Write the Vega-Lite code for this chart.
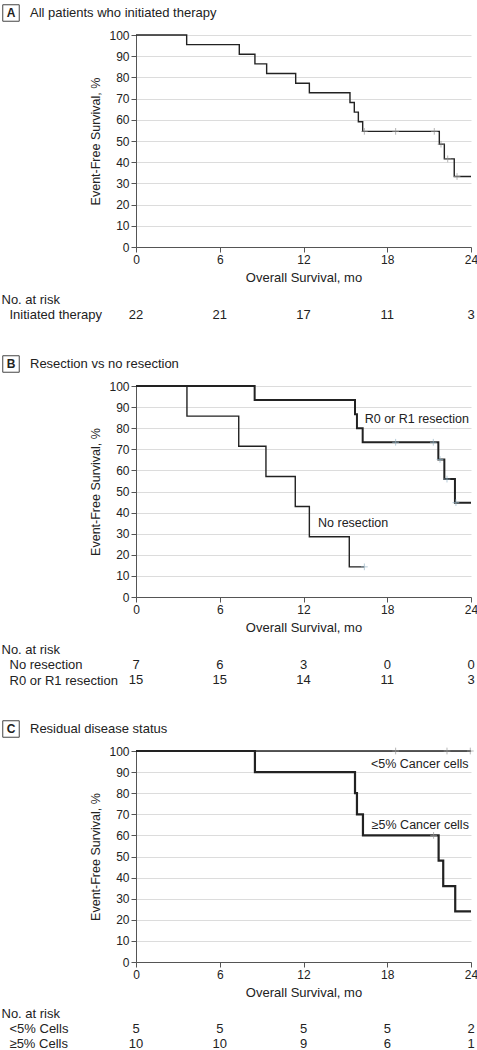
{
  "$schema": "https://vega.github.io/schema/vega-lite/v6.json",
  "background": "white",
  "padding": {"left": 0, "top": 2, "right": 0, "bottom": 0},
  "config": {
    "font": "Liberation Sans",
    "view": {"stroke": null},
    "axis": {"labelFontSize": 12, "labelColor": "#222", "titleFontSize": 12.5, "titleFontWeight": "normal", "titleColor": "#222", "domainColor": "#555", "tickColor": "#555", "tickSize": 5, "grid": false},
    "text": {"font": "Liberation Sans", "color": "#222"}
  },
  "datasets": {
    "curves": [
      {"panel": "A", "group": "All", "t": 0, "s": 100},
      {"panel": "A", "group": "All", "t": 3.63, "s": 95.45},
      {"panel": "A", "group": "All", "t": 7.4, "s": 90.91},
      {"panel": "A", "group": "All", "t": 8.52, "s": 86.36},
      {"panel": "A", "group": "All", "t": 9.36, "s": 81.82},
      {"panel": "A", "group": "All", "t": 11.44, "s": 77.27},
      {"panel": "A", "group": "All", "t": 12.42, "s": 72.73},
      {"panel": "A", "group": "All", "t": 15.33, "s": 68.18},
      {"panel": "A", "group": "All", "t": 15.64, "s": 63.64},
      {"panel": "A", "group": "All", "t": 15.93, "s": 59.09},
      {"panel": "A", "group": "All", "t": 16.24, "s": 54.55},
      {"panel": "A", "group": "All", "t": 21.73, "s": 48.48},
      {"panel": "A", "group": "All", "t": 22.09, "s": 41.56},
      {"panel": "A", "group": "All", "t": 22.8, "s": 33.25},
      {"panel": "A", "group": "All", "t": 24, "s": 33.25},
      {"panel": "B", "group": "No resection", "t": 0, "s": 100},
      {"panel": "B", "group": "No resection", "t": 3.65, "s": 85.71},
      {"panel": "B", "group": "No resection", "t": 7.36, "s": 71.43},
      {"panel": "B", "group": "No resection", "t": 9.31, "s": 57.14},
      {"panel": "B", "group": "No resection", "t": 11.41, "s": 42.86},
      {"panel": "B", "group": "No resection", "t": 12.42, "s": 28.57},
      {"panel": "B", "group": "No resection", "t": 15.28, "s": 14.29},
      {"panel": "B", "group": "No resection", "t": 16.36, "s": 14.29},
      {"panel": "B", "group": "R0 or R1 resection", "t": 0, "s": 100},
      {"panel": "B", "group": "R0 or R1 resection", "t": 8.5, "s": 93.33},
      {"panel": "B", "group": "R0 or R1 resection", "t": 15.69, "s": 86.67},
      {"panel": "B", "group": "R0 or R1 resection", "t": 15.83, "s": 80},
      {"panel": "B", "group": "R0 or R1 resection", "t": 16.24, "s": 73.33},
      {"panel": "B", "group": "R0 or R1 resection", "t": 21.66, "s": 65.19},
      {"panel": "B", "group": "R0 or R1 resection", "t": 22.09, "s": 55.87},
      {"panel": "B", "group": "R0 or R1 resection", "t": 22.85, "s": 44.7},
      {"panel": "B", "group": "R0 or R1 resection", "t": 24, "s": 44.7},
      {"panel": "C", "group": "<5% Cancer cells", "t": 0, "s": 100},
      {"panel": "C", "group": "<5% Cancer cells", "t": 24, "s": 100},
      {"panel": "C", "group": "≥5% Cancer cells", "t": 0, "s": 100},
      {"panel": "C", "group": "≥5% Cancer cells", "t": 8.52, "s": 90},
      {"panel": "C", "group": "≥5% Cancer cells", "t": 15.69, "s": 80},
      {"panel": "C", "group": "≥5% Cancer cells", "t": 15.83, "s": 70},
      {"panel": "C", "group": "≥5% Cancer cells", "t": 16.26, "s": 60},
      {"panel": "C", "group": "≥5% Cancer cells", "t": 21.68, "s": 48},
      {"panel": "C", "group": "≥5% Cancer cells", "t": 22.01, "s": 36},
      {"panel": "C", "group": "≥5% Cancer cells", "t": 22.87, "s": 24},
      {"panel": "C", "group": "≥5% Cancer cells", "t": 24, "s": 24}
    ],
    "censor": [
      {"panel": "A", "group": "All", "t": 16.36, "s": 54.55},
      {"panel": "A", "group": "All", "t": 18.6, "s": 54.55},
      {"panel": "A", "group": "All", "t": 21.37, "s": 54.55},
      {"panel": "A", "group": "All", "t": 21.85, "s": 48.48},
      {"panel": "A", "group": "All", "t": 22.33, "s": 41.56},
      {"panel": "A", "group": "All", "t": 23.0, "s": 33.25},
      {"panel": "B", "group": "No resection", "t": 16.36, "s": 14.29},
      {"panel": "B", "group": "R0 or R1 resection", "t": 18.6, "s": 73.33},
      {"panel": "B", "group": "R0 or R1 resection", "t": 21.3, "s": 73.33},
      {"panel": "B", "group": "R0 or R1 resection", "t": 21.78, "s": 65.19},
      {"panel": "B", "group": "R0 or R1 resection", "t": 22.28, "s": 55.87},
      {"panel": "B", "group": "R0 or R1 resection", "t": 22.92, "s": 44.7},
      {"panel": "C", "group": "<5% Cancer cells", "t": 18.6, "s": 100},
      {"panel": "C", "group": "<5% Cancer cells", "t": 22.28, "s": 100},
      {"panel": "C", "group": "<5% Cancer cells", "t": 23.95, "s": 100},
      {"panel": "C", "group": "≥5% Cancer cells", "t": 21.32, "s": 60}
    ],
    "labels": [
      {"panel": "B", "label": "R0 or R1 resection", "t": 23.85, "s": 84.2, "side": "right"},
      {"panel": "B", "label": "No resection", "t": 13.04, "s": 35.2, "side": "left"},
      {"panel": "C", "label": "<5% Cancer cells", "t": 23.83, "s": 93.7, "side": "right"},
      {"panel": "C", "label": "≥5% Cancer cells", "t": 23.85, "s": 64.9, "side": "right"}
    ],
    "risk": [
      {"panel": "A", "group": "Initiated therapy", "t": 0, "n": 22},
      {"panel": "A", "group": "Initiated therapy", "t": 6, "n": 21},
      {"panel": "A", "group": "Initiated therapy", "t": 12, "n": 17},
      {"panel": "A", "group": "Initiated therapy", "t": 18, "n": 11},
      {"panel": "A", "group": "Initiated therapy", "t": 24, "n": 3},
      {"panel": "B", "group": "No resection", "t": 0, "n": 7},
      {"panel": "B", "group": "No resection", "t": 6, "n": 6},
      {"panel": "B", "group": "No resection", "t": 12, "n": 3},
      {"panel": "B", "group": "No resection", "t": 18, "n": 0},
      {"panel": "B", "group": "No resection", "t": 24, "n": 0},
      {"panel": "B", "group": "R0 or R1 resection", "t": 0, "n": 15},
      {"panel": "B", "group": "R0 or R1 resection", "t": 6, "n": 15},
      {"panel": "B", "group": "R0 or R1 resection", "t": 12, "n": 14},
      {"panel": "B", "group": "R0 or R1 resection", "t": 18, "n": 11},
      {"panel": "B", "group": "R0 or R1 resection", "t": 24, "n": 3},
      {"panel": "C", "group": "<5% Cells", "t": 0, "n": 5},
      {"panel": "C", "group": "<5% Cells", "t": 6, "n": 5},
      {"panel": "C", "group": "<5% Cells", "t": 12, "n": 5},
      {"panel": "C", "group": "<5% Cells", "t": 18, "n": 5},
      {"panel": "C", "group": "<5% Cells", "t": 24, "n": 2},
      {"panel": "C", "group": "≥5% Cells", "t": 0, "n": 10},
      {"panel": "C", "group": "≥5% Cells", "t": 6, "n": 10},
      {"panel": "C", "group": "≥5% Cells", "t": 12, "n": 9},
      {"panel": "C", "group": "≥5% Cells", "t": 18, "n": 6},
      {"panel": "C", "group": "≥5% Cells", "t": 24, "n": 1}
    ],
    "headers": [
      {"panel": "A", "letter": "A", "title": "All patients who initiated therapy"},
      {"panel": "B", "letter": "B", "title": "Resection vs no resection"},
      {"panel": "C", "letter": "C", "title": "Residual disease status"}
    ]
  },
  "spacing": 30,
  "align": "none",
  "vconcat": [
    {
      "spacing": 5,
      "align": "none",
      "vconcat": [
        {
          "data": {"name": "headers"},
          "transform": [{"filter": "datum.panel === 'A'"}],
          "width": 20, "height": 16,
          "layer": [
            {"mark": {"type": "point", "shape": "square", "size": 272, "filled": false, "stroke": "#444", "strokeWidth": 1, "opacity": 1, "xOffset": -135}},
            {"mark": {"type": "text", "fontWeight": "bold", "fontSize": 12, "dx": -135}, "encoding": {"text": {"field": "letter"}}},
            {"mark": {"type": "text", "align": "left", "dx": -116, "fontSize": 13}, "encoding": {"text": {"field": "title"}}}
          ]
        },
        {
          "spacing": 7.5,
          "align": "none",
          "vconcat": [
            {
              "width": 335, "height": 212,
              "layer": [
                {
                  "data": {"name": "curves"},
                  "transform": [{"filter": "datum.panel === 'A'"}],
                  "mark": {"type": "line", "interpolate": "step-after", "strokeWidth": 1.4},
                  "encoding": {
                    "x": {"field": "t", "type": "quantitative", "scale": {"domain": [0, 24], "nice": false},
                          "axis": {"values": [0, 6, 12, 18, 24], "title": "Overall Survival, mo", "titleFontSize": 13, "labelPadding": 2, "titlePadding": 6, "labelFlush": false}},
                    "y": {"field": "s", "type": "quantitative", "scale": {"domain": [0, 100], "nice": false},
                          "axis": {"values": [0, 10, 20, 30, 40, 50, 60, 70, 80, 90, 100], "tickCount": 11, "labelOverlap": false, "grid": true, "gridColor": "#dcdcdc", "title": "Event-Free Survival, %", "minExtent": 135, "maxExtent": 135, "titleX": -34, "labelPadding": 2}},
                    "color": {"field": "group", "type": "nominal", "scale": {"domain": ["All"], "range": ["#222222"]}, "legend": null}
                  }
                },
                {
                  "data": {"name": "censor"},
                  "transform": [{"filter": "datum.panel === 'A'"}],
                  "mark": {"type": "point", "shape": "M-1,0L1,0M0,-1L0,1", "size": 45, "filled": false, "color": "#9a9a9a", "strokeWidth": 1},
                  "encoding": {"x": {"field": "t", "type": "quantitative"}, "y": {"field": "s", "type": "quantitative"}}
                }
              ]
            },
            {
              "data": {"name": "risk"},
              "transform": [{"filter": "datum.panel === 'A'"}],
              "width": 335, "height": {"step": 15.5},
              "mark": {"type": "text", "fontSize": 13},
              "encoding": {
                "x": {"field": "t", "type": "quantitative", "scale": {"domain": [0, 24], "nice": false}, "axis": null},
                "y": {"field": "group", "type": "nominal", "scale": {"domain": ["No. at risk", "Initiated therapy"]},
                      "axis": {"title": null, "ticks": false, "tickSize": 0, "domain": false, "labelAlign": "left", "labelPadding": {"condition": {"test": "datum.value === 'No. at risk'", "value": 135}, "value": 127}, "labelFontSize": 13, "minExtent": 135, "maxExtent": 135}},
                "text": {"field": "n", "type": "quantitative"}
              }
            }
          ]
        }
      ]
    },
    {
      "spacing": 5,
      "align": "none",
      "vconcat": [
        {
          "data": {"name": "headers"},
          "transform": [{"filter": "datum.panel === 'B'"}],
          "width": 20, "height": 16,
          "layer": [
            {"mark": {"type": "point", "shape": "square", "size": 272, "filled": false, "stroke": "#444", "strokeWidth": 1, "opacity": 1, "xOffset": -135}},
            {"mark": {"type": "text", "fontWeight": "bold", "fontSize": 12, "dx": -135}, "encoding": {"text": {"field": "letter"}}},
            {"mark": {"type": "text", "align": "left", "dx": -116, "fontSize": 13}, "encoding": {"text": {"field": "title"}}}
          ]
        },
        {
          "spacing": 7.5,
          "align": "none",
          "vconcat": [
            {
              "width": 335, "height": 211,
              "layer": [
                {
                  "data": {"name": "curves"},
                  "transform": [{"filter": "datum.panel === 'B' && datum.group === 'No resection'"}],
                  "mark": {"type": "line", "interpolate": "step-after", "strokeWidth": 1.4},
                  "encoding": {
                    "x": {"field": "t", "type": "quantitative", "scale": {"domain": [0, 24], "nice": false},
                          "axis": {"values": [0, 6, 12, 18, 24], "title": "Overall Survival, mo", "titleFontSize": 13, "labelPadding": 2, "titlePadding": 6, "labelFlush": false}},
                    "y": {"field": "s", "type": "quantitative", "scale": {"domain": [0, 100], "nice": false},
                          "axis": {"values": [0, 10, 20, 30, 40, 50, 60, 70, 80, 90, 100], "tickCount": 11, "labelOverlap": false, "grid": true, "gridColor": "#dcdcdc", "title": "Event-Free Survival, %", "minExtent": 135, "maxExtent": 135, "titleX": -34, "labelPadding": 2}},
                    "color": {"field": "group", "type": "nominal", "scale": {"domain": ["No resection", "R0 or R1 resection"], "range": ["#222222", "#1e9bd7"]}, "legend": null}
                  }
                },
                {
                  "data": {"name": "curves"},
                  "transform": [{"filter": "datum.panel === 'B' && datum.group === 'R0 or R1 resection'"}],
                  "mark": {"type": "line", "interpolate": "step-after", "strokeWidth": 2},
                  "encoding": {
                    "x": {"field": "t", "type": "quantitative"},
                    "y": {"field": "s", "type": "quantitative"},
                    "color": {"field": "group", "type": "nominal", "legend": null}
                  }
                },
                {
                  "data": {"name": "censor"},
                  "transform": [{"filter": "datum.panel === 'B'"}],
                  "mark": {"type": "point", "shape": "M-1,0L1,0M0,-1L0,1", "size": 45, "filled": false, "color": "#9ab8c8", "strokeWidth": 1},
                  "encoding": {"x": {"field": "t", "type": "quantitative"}, "y": {"field": "s", "type": "quantitative"}}
                },
                {
                  "data": {"name": "labels"},
                  "transform": [{"filter": "datum.panel === 'B' && datum.side === 'right'"}],
                  "mark": {"type": "text", "align": "right", "fontSize": 12.5},
                  "encoding": {"x": {"field": "t", "type": "quantitative"}, "y": {"field": "s", "type": "quantitative"}, "text": {"field": "label"}}
                },
                {
                  "data": {"name": "labels"},
                  "transform": [{"filter": "datum.panel === 'B' && datum.side === 'left'"}],
                  "mark": {"type": "text", "align": "left", "fontSize": 12.5},
                  "encoding": {"x": {"field": "t", "type": "quantitative"}, "y": {"field": "s", "type": "quantitative"}, "text": {"field": "label"}}
                }
              ]
            },
            {
              "data": {"name": "risk"},
              "transform": [{"filter": "datum.panel === 'B'"}],
              "width": 335, "height": {"step": 15.5},
              "mark": {"type": "text", "fontSize": 13},
              "encoding": {
                "x": {"field": "t", "type": "quantitative", "scale": {"domain": [0, 24], "nice": false}, "axis": null},
                "y": {"field": "group", "type": "nominal", "scale": {"domain": ["No. at risk", "No resection", "R0 or R1 resection"]},
                      "axis": {"title": null, "ticks": false, "tickSize": 0, "domain": false, "labelAlign": "left", "labelPadding": {"condition": {"test": "datum.value === 'No. at risk'", "value": 135}, "value": 127}, "labelFontSize": 13, "minExtent": 135, "maxExtent": 135}},
                "text": {"field": "n", "type": "quantitative"}
              }
            }
          ]
        }
      ]
    },
    {
      "spacing": 5,
      "align": "none",
      "vconcat": [
        {
          "data": {"name": "headers"},
          "transform": [{"filter": "datum.panel === 'C'"}],
          "width": 20, "height": 16,
          "layer": [
            {"mark": {"type": "point", "shape": "square", "size": 272, "filled": false, "stroke": "#444", "strokeWidth": 1, "opacity": 1, "xOffset": -135}},
            {"mark": {"type": "text", "fontWeight": "bold", "fontSize": 12, "dx": -135}, "encoding": {"text": {"field": "letter"}}},
            {"mark": {"type": "text", "align": "left", "dx": -116, "fontSize": 13}, "encoding": {"text": {"field": "title"}}}
          ]
        },
        {
          "spacing": 7,
          "align": "none",
          "vconcat": [
            {
              "width": 335, "height": 211,
              "layer": [
                {
                  "data": {"name": "curves"},
                  "transform": [{"filter": "datum.panel === 'C' && datum.group === '<5% Cancer cells'"}],
                  "mark": {"type": "line", "interpolate": "step-after", "strokeWidth": 1.4},
                  "encoding": {
                    "x": {"field": "t", "type": "quantitative", "scale": {"domain": [0, 24], "nice": false},
                          "axis": {"values": [0, 6, 12, 18, 24], "title": "Overall Survival, mo", "titleFontSize": 13, "labelPadding": 2, "titlePadding": 6, "labelFlush": false}},
                    "y": {"field": "s", "type": "quantitative", "scale": {"domain": [0, 100], "nice": false},
                          "axis": {"values": [0, 10, 20, 30, 40, 50, 60, 70, 80, 90, 100], "tickCount": 11, "labelOverlap": false, "grid": true, "gridColor": "#dcdcdc", "title": "Event-Free Survival, %", "minExtent": 135, "maxExtent": 135, "titleX": -34, "labelPadding": 2}},
                    "color": {"field": "group", "type": "nominal", "scale": {"domain": ["<5% Cancer cells", "≥5% Cancer cells"], "range": ["#222222", "#1e9bd7"]}, "legend": null}
                  }
                },
                {
                  "data": {"name": "curves"},
                  "transform": [{"filter": "datum.panel === 'C' && datum.group === '≥5% Cancer cells'"}],
                  "mark": {"type": "line", "interpolate": "step-after", "strokeWidth": 2.2},
                  "encoding": {
                    "x": {"field": "t", "type": "quantitative"},
                    "y": {"field": "s", "type": "quantitative"},
                    "color": {"field": "group", "type": "nominal", "legend": null}
                  }
                },
                {
                  "data": {"name": "censor"},
                  "transform": [{"filter": "datum.panel === 'C'"}],
                  "mark": {"type": "point", "shape": "M-1,0L1,0M0,-1L0,1", "size": 45, "filled": false, "color": "#9a9a9a", "strokeWidth": 1},
                  "encoding": {"x": {"field": "t", "type": "quantitative"}, "y": {"field": "s", "type": "quantitative"}}
                },
                {
                  "data": {"name": "labels"},
                  "transform": [{"filter": "datum.panel === 'C'"}],
                  "mark": {"type": "text", "align": "right", "fontSize": 12.5},
                  "encoding": {"x": {"field": "t", "type": "quantitative"}, "y": {"field": "s", "type": "quantitative"}, "text": {"field": "label"}}
                }
              ]
            },
            {
              "data": {"name": "risk"},
              "transform": [{"filter": "datum.panel === 'C'"}],
              "width": 335, "height": {"step": 15},
              "mark": {"type": "text", "fontSize": 13},
              "encoding": {
                "x": {"field": "t", "type": "quantitative", "scale": {"domain": [0, 24], "nice": false}, "axis": null},
                "y": {"field": "group", "type": "nominal", "scale": {"domain": ["No. at risk", "<5% Cells", "≥5% Cells"]},
                      "axis": {"title": null, "ticks": false, "tickSize": 0, "domain": false, "labelAlign": "left", "labelPadding": {"condition": {"test": "datum.value === 'No. at risk'", "value": 135}, "value": 127}, "labelFontSize": 13, "minExtent": 135, "maxExtent": 135}},
                "text": {"field": "n", "type": "quantitative"}
              }
            }
          ]
        }
      ]
    }
  ]
}
